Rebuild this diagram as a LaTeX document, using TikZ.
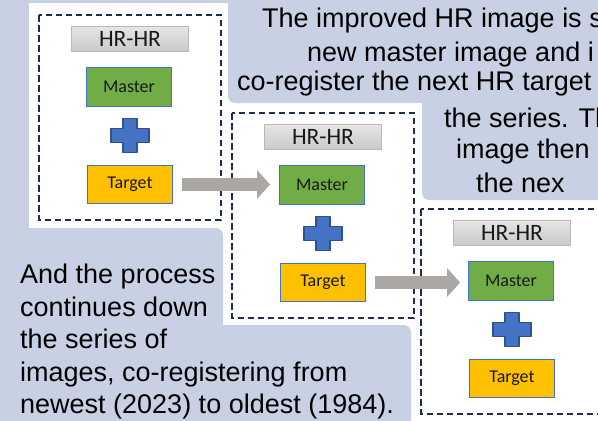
\documentclass[tikz,border=0pt]{standalone}
\usepackage{fontspec}
\setmainfont{Liberation Sans}
\newfontfamily\panelfont{Carlito}
\usetikzlibrary{arrows.meta}
\definecolor{slideblue}{RGB}{199,209,227}
\definecolor{masterfill}{RGB}{112,173,71}
\definecolor{targetfill}{RGB}{255,192,0}
\definecolor{boxedge}{RGB}{68,114,196}
\definecolor{crossedge}{RGB}{47,82,143}
\definecolor{dashnavy}{RGB}{31,45,80}
\definecolor{arrowgrey}{RGB}{170,167,165}
\definecolor{labelgrey}{RGB}{185,185,185}
\begin{document}
\begin{tikzpicture}[x=1pt, y=-1pt,
  slidetext/.style={font=\fontsize{27}{32.5}\selectfont, inner sep=0pt, anchor=base west},
  panelframe/.style={draw=dashnavy, line width=2pt, dash pattern=on 6.5pt off 3.5pt},
  hrbox/.style={draw=labelgrey, top color=gray!20, bottom color=gray!42, minimum width=117pt, minimum height=25pt, inner sep=0pt, font=\panelfont\fontsize{23.5}{23.5}\selectfont, text=black!90},
  imgbox/.style={draw=boxedge, line width=0.8pt, minimum width=85pt, minimum height=38.5pt, inner sep=0pt, font=\panelfont\fontsize{18}{18}\selectfont, text=black!90},
  crossmark/.style={fill=boxedge, draw=crossedge, line width=1.5pt, line join=round},
  blockarrow/.style={draw=arrowgrey, line width=13pt, -{Triangle[length=13pt, width=28pt]}}
]
  \useasboundingbox (0,0) rectangle (598,421);
  \clip (0,0) rectangle (598,421);
  \fill[slideblue] (0,0) rectangle (598,421);
  \fill[white] (29,3) rectangle (598,421);
  \fill[slideblue, rounded corners=7pt] (228,-20) rectangle (620,103);
  \fill[slideblue, rounded corners=7pt] (422,-20) rectangle (620,200);
  \fill[slideblue, rounded corners=7pt] (-20,228) rectangle (223,441);
  \fill[slideblue, rounded corners=7pt] (-20,325) rectangle (411,441);

  \foreach \px/\py/\n in {39/15/1, 232/113/2, 421/209/3} {
    \draw[panelframe] (\px,\py) rectangle ++(182,204.5);
    \node[hrbox] (hr\n) at ({\px+91},{\py+24}) {HR-HR};
    \node[imgbox, fill=masterfill] (master\n) at ({\px+90},{\py+72}) {Master};
    \node[imgbox, fill=targetfill] (target\n) at ({\px+91},{\py+169.5}) {Target};
    \draw[crossmark, shift={({\px+91},{\py+120.5})}] (-7,-17) -- (7,-17) -- (7,-7) -- (19,-7) -- (19,7) -- (7,7)
      -- (7,17) -- (-7,17) -- (-7,7) -- (-19,7) -- (-19,-7) -- (-7,-7) -- cycle;
  }

  \draw[blockarrow] ([xshift=9pt]target1.east) -- ([xshift=-9pt]target1.east -| master2.west);
  \draw[blockarrow] ([xshift=9pt]target2.east) -- ([xshift=-8pt]target2.east -| master3.west);

  \foreach \tx/\ty/\tt [count=\i] in {262/27/The improved HR image is s, 307/61/new master image and i,
      237/90/co-register the next HR target, 444/127/the series. Th, 456/158/image then, 476/192/the nex}
    \node[slidetext] (topline\i) at (\tx,\ty) {\tt};

  \foreach \ty/\tt [count=\i] in {283.5/And the process, 316/continues down, 348.5/the series of,
      381/{images, co-registering from}, 413.5/{newest (2023) to oldest (1984).}}
    \node[slidetext] (lowline\i) at (20,\ty) {\tt};
\end{tikzpicture}
\end{document}
